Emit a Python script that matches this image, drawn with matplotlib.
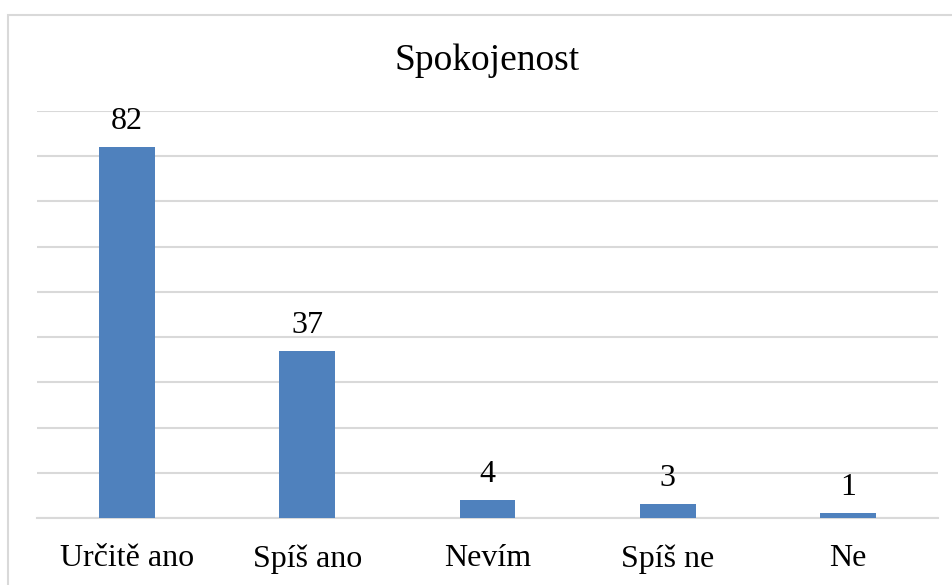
import matplotlib.pyplot as plt
from matplotlib.patches import Rectangle

categories = ['Určitě ano', 'Spíš ano', 'Nevím', 'Spíš ne', 'Ne']
values = [82, 37, 4, 3, 1]

W, H = 953, 585
plt.rcParams['font.family'] = ['Liberation Serif', 'DejaVu Serif']

fig = plt.figure(figsize=(W / 100, H / 100), dpi=100)
ax = fig.add_axes([37 / W, (H - 518) / H, (938 - 37) / W, (518 - 111) / H])

# outer chart border (partly cut off at right and bottom)
fig.patches.append(Rectangle((8 / W, -0.05), 2, (H - 15) / H + 0.05,
                             transform=fig.transFigure, fill=False,
                             edgecolor='#D9D9D9', lw=1.5, zorder=0))

x = range(len(categories))
ax.bar(x, values, width=0.31, color='#4F81BD', zorder=3)
for xi, v in zip(x, values):
    ax.annotate(str(v), (xi, v), xytext=(0, 13), textcoords='offset points',
                ha='center', va='baseline', fontsize=23)

ax.set_xlim(-0.5, len(categories) - 0.5)
ax.set_ylim(0, 90)
ax.set_yticks(range(0, 91, 10))
ax.yaxis.grid(True, color='#D9D9D9', lw=1.5, zorder=0)
ax.tick_params(axis='y', left=False, labelleft=False)
ax.set_xticks(list(x))
ax.set_xticklabels(categories, fontsize=23)
ax.tick_params(axis='x', length=0, pad=19)
for s in ['top', 'right', 'left']:
    ax.spines[s].set_visible(False)
ax.spines['bottom'].set_color('#D9D9D9')
ax.spines['bottom'].set_linewidth(1.5)

fig.text(487 / W, (H - 70) / H, 'Spokojenost', ha='center', va='baseline', fontsize=27)

fig.savefig('out.png', dpi=100)
